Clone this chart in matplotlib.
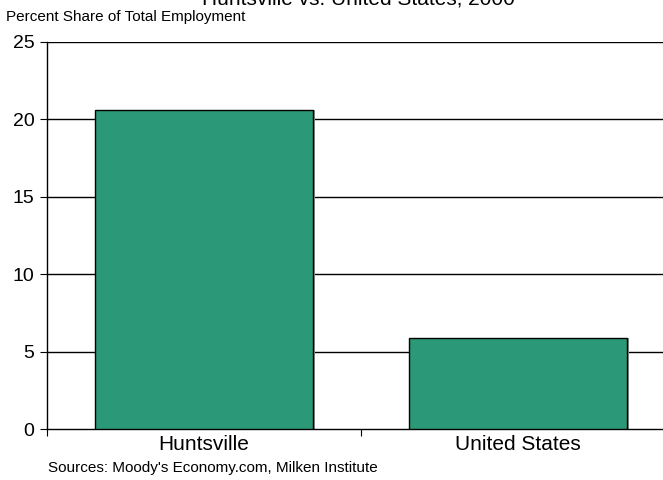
import matplotlib
matplotlib.use("Agg")
import matplotlib.pyplot as plt
import numpy as np

categories = ["Huntsville", "United States"]
values = [20.6, 5.9]
yticks = [0, 5, 10, 15, 20, 25]

plt.rcParams['font.family'] = ['Liberation Sans', 'DejaVu Sans']

fig = plt.figure(figsize=(6.63, 4.8), dpi=100)
ax = fig.add_axes([47 / 663, 1 - 429 / 480, 628 / 663, 387 / 480])

x = np.arange(len(categories)) + 0.5
bar_color = "#2b9877"
bar_width = 0.694
# soft shadow behind each bar
ax.bar(x + 0.008, values, width=bar_width, color="#9a9a9a", zorder=2, linewidth=0)
ax.bar(x, values, width=bar_width, color=bar_color, edgecolor="black", linewidth=1.0, zorder=3)

ax.set_xlim(0, 2)
ax.set_ylim(0, 25)
ax.set_yticks(yticks)
ax.set_yticklabels([str(t) for t in yticks], fontsize=14)
for t in yticks[1:]:
    ax.axhline(t, color="black", linewidth=1.0, zorder=1)

ax.set_xticks([0, 1, 2])
ax.set_xticklabels([])
ax.set_xticks(x, minor=True)
ax.set_xticklabels(categories, minor=True, fontsize=15)
ax.tick_params(axis="x", which="minor", length=0, pad=4)
ax.tick_params(axis="x", which="major", direction="out", length=5, color="black")
ax.tick_params(axis="y", direction="out", length=5, pad=4)

for side in ["top", "right"]:
    ax.spines[side].set_visible(False)
ax.spines["left"].set_linewidth(1.0)
ax.spines["bottom"].set_linewidth(1.0)

fig.text(358 / 663, 1 + 1 / 480, "Huntsville vs. United States, 2000", ha="center", va="center", fontsize=15)
fig.text(6 / 663, 1 - 17 / 480, "Percent Share of Total Employment", ha="left", va="center", fontsize=11)
fig.text(48 / 663, 1 - 468 / 480, "Sources: Moody's Economy.com, Milken Institute", ha="left", va="center", fontsize=11)

fig.savefig("out.png", dpi=100)
